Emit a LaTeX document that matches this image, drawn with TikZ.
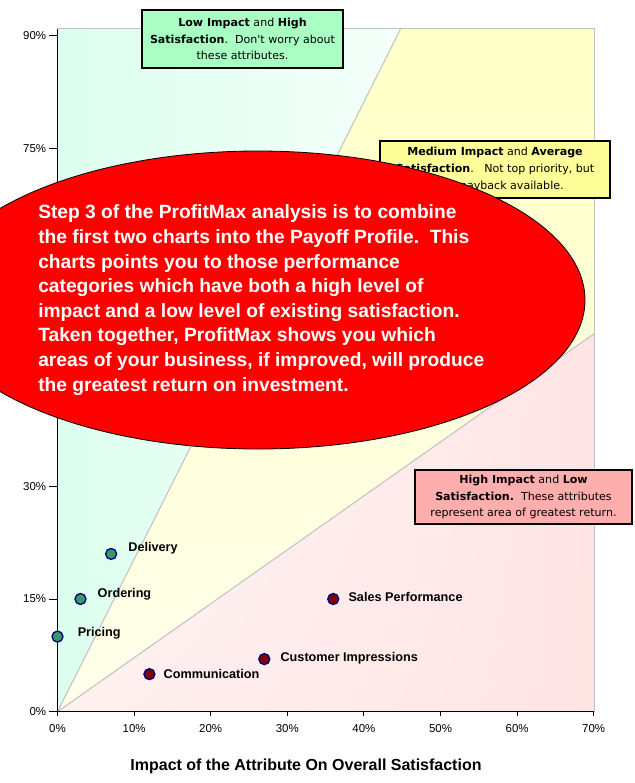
\documentclass[tikz,border=0pt]{standalone}
\usepackage{fontspec}
\setmainfont{Liberation Sans}
\newfontfamily\boxfont{DejaVu Sans}
\usetikzlibrary{shapes.geometric,shadings}
\definecolor{mint}{RGB}{220,255,238}
\definecolor{mint2}{RGB}{244,255,250}
\definecolor{paleyel}{RGB}{255,255,198}
\definecolor{paleyel2}{RGB}{255,255,236}
\definecolor{palepink}{RGB}{255,228,228}
\definecolor{palepink2}{RGB}{255,250,250}
\definecolor{palepink3}{RGB}{255,240,240}
\definecolor{gridgray}{RGB}{192,192,192}
\definecolor{ptgreen}{RGB}{51,153,102}
\definecolor{ptred}{RGB}{128,0,0}
\definecolor{navyb}{RGB}{0,0,128}
\definecolor{boxgreen}{RGB}{170,255,195}
\definecolor{boxyellow}{RGB}{255,255,153}
\definecolor{boxpink}{RGB}{255,174,174}
\begin{document}
\begin{tikzpicture}[x=0.75pt,y=-0.75pt,
  regionline/.style={draw=gridgray,line width=0.75pt},
  axisline/.style={draw=black,line width=0.75pt},
  ticklabel/.style={font=\fontsize{8.6}{10}\selectfont,inner sep=0pt},
  gpt/.style={circle,fill=ptgreen,draw=navyb,line width=1pt,minimum size=8.25pt,inner sep=0pt},
  rpt/.style={circle,fill=ptred,draw=navyb,line width=1pt,minimum size=8.25pt,inner sep=0pt},
  ptlabel/.style={font=\bfseries\fontsize{9.5}{11}\selectfont,anchor=west,inner sep=0pt},
  infobox/.style={draw=black,line width=0.9pt,font=\boxfont\fontsize{8.3}{12.5}\selectfont,align=center,inner sep=0pt},
  callout/.style={ellipse,draw=black,line width=0.6pt,fill=red,inner sep=0pt},
  callouttext/.style={font=\bfseries\fontsize{14.4}{18.45}\selectfont,text=white,align=left,anchor=west,inner sep=0pt}
]
\useasboundingbox (0,0) rectangle (635,783);
\fill[white] (0,0) rectangle (635,783);
\clip (0,0) rectangle (635,783);

\begin{scope}[shift={(57.5,711.7)},x=5.745pt,y=5.635pt]
  % regions
  \shade[left color=mint,right color=mint2] (0,0) -- (0,90.9) -- (44.8,90.9) -- cycle;
  \shade[top color=paleyel,bottom color=paleyel2] (0,0) -- (44.8,90.9) -- (70.04,90.9) -- (70.04,50.3) -- cycle;
  \shade[upper left=palepink2,upper right=palepink,lower left=palepink3,lower right=palepink] (0,0) -- (70.04,50.3) -- (70.04,0) -- cycle;
  \coordinate (o) at (0,0);
  \coordinate (l1) at (44.8,90.9);
  \coordinate (l2) at (70.04,50.3);
  \draw[regionline] (o) -- (l1);
  \draw[regionline] (o) -- (l2);
  \draw[regionline] (0,0) rectangle (70.04,90.9);
  % axes
  \coordinate (ytop) at (0,90.9);
  \coordinate (xend) at (70,0);
  \draw[axisline] (o) -- (ytop);
  \draw[axisline] (o) -- (xend);
  \foreach \v in {0,15,...,90}{
    \draw[axisline] (0,\v) -- ++(-6.3pt,0);
  }
  \foreach \v in {0,15,30,75,90}{
    \node[ticklabel,anchor=east] (yl\v) at ([xshift=-8.3pt]0,\v) {\v\%};
  }
  \foreach \v in {0,10,...,70}{
    \draw[axisline] (\v,0) -- ++(0,-3pt);
    \node[ticklabel] (xl\v) at ([yshift=-13pt]\v,0) {\v\%};
  }
  % points
  \node[gpt] (pPricing) at (0,10) {};
  \node[gpt] (pOrdering) at (3,15) {};
  \node[gpt] (pDelivery) at (7,21) {};
  \node[rpt] (pComm) at (12,5) {};
  \node[rpt] (pCust) at (27,7) {};
  \node[rpt] (pSales) at (36,15) {};
  \node[ptlabel] (lPricing) at ([xshift=15pt,yshift=2.6pt]pPricing.center) {Pricing};
  \node[ptlabel] (lOrdering) at ([xshift=12.75pt,yshift=3.9pt]pOrdering.center) {Ordering};
  \node[ptlabel] (lDelivery) at ([xshift=12.75pt,yshift=4.5pt]pDelivery.center) {Delivery};
  \node[ptlabel] (lComm) at ([xshift=10.5pt,yshift=0.5pt]pComm.center) {Communication};
  \node[ptlabel] (lCust) at ([xshift=12pt,yshift=1pt]pCust.center) {Customer Impressions};
  \node[ptlabel] (lSales) at ([xshift=11.25pt,yshift=1.5pt]pSales.center) {Sales Performance};
\end{scope}

% info boxes
\node[infobox,fill=boxgreen,minimum width=150.75pt,minimum height=43.5pt] (bLow) at (242.5,39)
  {\textbf{Low Impact} and \textbf{High}\\\textbf{Satisfaction}.\ \ Don't worry about\\these attributes.};
\node[infobox,fill=boxyellow,minimum width=172.5pt,minimum height=42.75pt] (bMed) at (495,169.5)
  {\textbf{Medium Impact} and \textbf{Average}\\\textbf{Satisfaction}.\ \ \ Not top priority, but\\some payback available.};
\node[infobox,fill=boxpink,minimum width=162.75pt,minimum height=40.5pt] (bHigh) at (523.5,497)
  {\textbf{High Impact} and \textbf{Low}\\\textbf{Satisfaction.}\ \ These attributes\\represent area of greatest return.};

% callout
\node[callout,minimum width=490.5pt,minimum height=223.5pt] (oval) at (258,300) {};
\node[callouttext] (ovaltext) at (38,300)
  {Step 3 of the ProfitMax analysis is to combine\\
   the first two charts into the Payoff Profile.\ \ This\\
   charts points you to those performance\\
   categories which have both a high level of\\
   impact and a low level of existing satisfaction.\\
   Taken together, ProfitMax shows you which\\
   areas of your business, if improved, will produce\\
   the greatest return on investment.};

% axis title
\node[font=\bfseries\fontsize{12}{14}\selectfont,inner sep=0pt] (xtitle) at (306,766) {Impact of the Attribute On Overall Satisfaction};
\end{tikzpicture}
\end{document}
